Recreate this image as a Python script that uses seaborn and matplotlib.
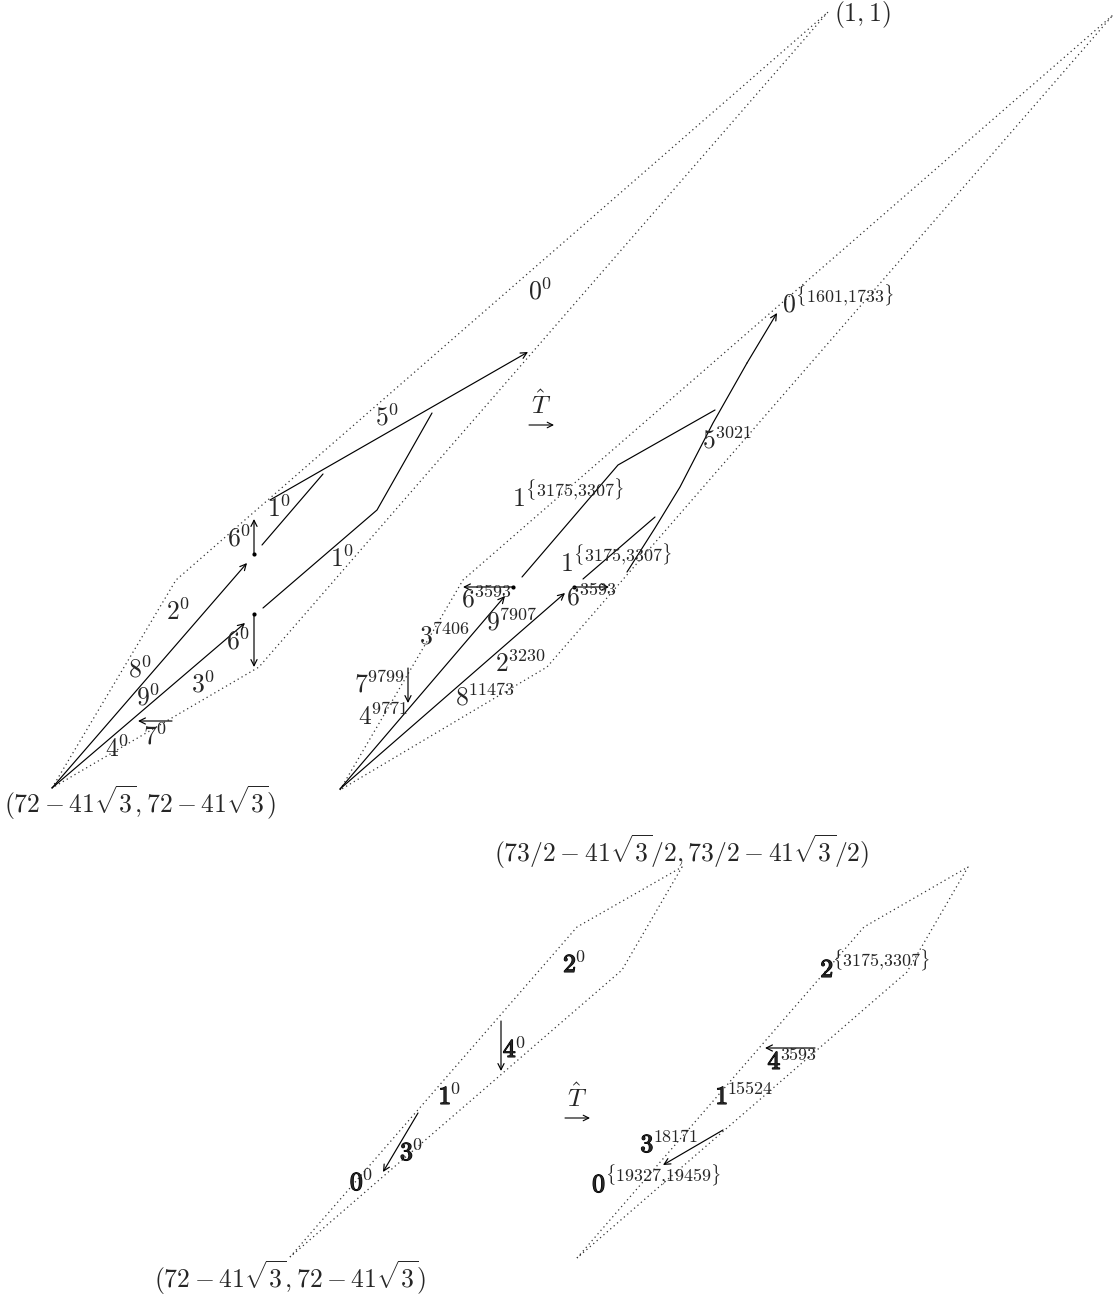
import seaborn as sns
import matplotlib.pyplot as plt
import matplotlib.patheffects as pe

# Drawing coordinates are in pixels of the original figure (y grows downwards)

# dotted outlines
top_left_x = [52, 176, 828, 259, 52]
top_left_y = [788, 580, 12, 667, 788]
top_right_x = [340, 463, 1113, 547, 340]
top_right_y = [790, 580, 15, 667, 790]
bot_left_x = [290, 577, 682, 622, 290]
bot_left_y = [1257, 927, 867, 970, 1257]
bot_right_x = [577, 864, 968, 907, 577]
bot_right_y = [1258, 927, 867, 972, 1258]

# solid paths without arrow heads
plain_paths = [
    [(262, 545), (323, 474)],
    [(263, 608), (377, 510), (432, 413)],
    [(522, 577), (618, 465), (715, 410)],
    [(583, 579), (655, 517)],
]

# paths ending in an arrow head
arrow_paths = [
    [(52, 788), (247, 563)],
    [(52, 788), (245, 623)],
    [(172, 721), (138, 721)],
    [(270, 500), (528, 352)],
    [(340, 789), (505, 596)],
    [(340, 789), (565, 593)],
    [(408, 668), (408, 703)],
    [(627, 572), (655, 528), (680, 487), (713, 423), (747, 363), (777, 313)],
    [(501, 1021), (501, 1071)],
    [(418, 1113), (383, 1172)],
    [(815, 1048), (765, 1048)],
    [(723, 1130), (663, 1165)],
]

# arrows with a dot at the start
dot_arrows = [
    [(254, 554), (254, 519)],
    [(254, 614), (254, 667)],
    [(513, 587), (463, 587)],
    [(574, 587), (609, 587)],
]

# labels: text, x, y
labels_top_left = [
    (r"$0^{0}$", 540, 292), (r"$5^{0}$", 387, 418), (r"$1^{0}$", 279, 510),
    (r"$6^{0}$", 239, 539), (r"$1^{0}$", 342, 560), (r"$2^{0}$", 178, 613),
    (r"$6^{0}$", 238, 642), (r"$8^{0}$", 140, 670), (r"$9^{0}$", 148, 698),
    (r"$3^{0}$", 203, 685), (r"$4^{0}$", 117, 750), (r"$7^{0}$", 155, 737),
]
labels_top_right = [
    (r"$0^{\{1601{,}1733\}}$", 838, 302), (r"$5^{3021}$", 727, 441),
    (r"$1^{\{3175{,}3307\}}$", 568, 497), (r"$1^{\{3175{,}3307\}}$", 616, 562),
    (r"$6^{3593}$", 487, 600), (r"$6^{3593}$", 592, 598),
    (r"$3^{7406}$", 445, 637), (r"$9^{7907}$", 512, 623),
    (r"$7^{9799}$", 380, 685), (r"$4^{9771}$", 383, 718),
    (r"$2^{3230}$", 521, 665), (r"$8^{11473}$", 485, 698),
]
# bold labels: bold digit, exponent, x, y
labels_bottom = [
    ("2", "0", 575, 965), ("4", "0", 515, 1050), ("1", "0", 450, 1097),
    ("3", "0", 412, 1153), ("0", "0", 362, 1183),
    ("2", r"\{3175{,}3307\}", 876, 970), ("4", "3593", 793, 1062),
    ("1", "15524", 745, 1097), ("3", "18171", 670, 1145),
    ("0", r"\{19327{,}19459\}", 657, 1185),
]
corner_labels = [
    (r"$(1,1)$", 862, 14),
    (r"$(72-41\sqrt{3},72-41\sqrt{3})$", 140, 803),
    (r"$(73/2-41\sqrt{3}/2,73/2-41\sqrt{3}/2)$", 682, 852),
    (r"$(72-41\sqrt{3},72-41\sqrt{3})$", 290, 1278),
]
t_hat_pos = [(541, 414), (577, 1107)]

sns.set_theme(style="white")
plt.rcParams['mathtext.fontset'] = 'cm'
plt.rcParams['font.family'] = ['DejaVu Sans']
fs = 18.5

fig = plt.figure(figsize=(11.15, 12.95), dpi=100)
ax = fig.add_axes([0, 0, 1, 1])
ax.set_xlim(0, 1115)
ax.set_ylim(1295, 0)
ax.axis('off')

dotted = dict(color='#333333', lw=0.9, linestyle=(0, (1, 2.6)))
for xs, ys in [(top_left_x, top_left_y), (top_right_x, top_right_y),
               (bot_left_x, bot_left_y), (bot_right_x, bot_right_y)]:
    sns.lineplot(x=xs, y=ys, sort=False, estimator=None, ax=ax, **dotted)

solid = dict(color='black', lw=0.85)
for path in plain_paths:
    sns.lineplot(x=[p[0] for p in path], y=[p[1] for p in path],
                 sort=False, estimator=None, ax=ax, **solid)

head = dict(arrowstyle='->', lw=0.85, color='black', shrinkA=0, shrinkB=0,
            mutation_scale=11)
for path in arrow_paths:
    if len(path) > 2:
        sns.lineplot(x=[p[0] for p in path[:-1]], y=[p[1] for p in path[:-1]],
                     sort=False, estimator=None, ax=ax, **solid)
    ax.annotate("", xy=path[-1], xytext=path[-2], arrowprops=head)

for path in dot_arrows:
    ax.annotate("", xy=path[-1], xytext=path[0], arrowprops=head)
    sns.scatterplot(x=[path[0][0]], y=[path[0][1]], s=9, color='black',
                    ax=ax, linewidth=0)

for txt, x, y in labels_top_left + labels_top_right + corner_labels:
    ax.text(x, y, txt, fontsize=fs, ha='center', va='center')

# T-hat over a short arrow
for x, y in t_hat_pos:
    ax.text(x, y, r"$\hat{T}$", fontsize=fs, ha='center', va='baseline')
    ax.annotate("", xy=(x + 13, y + 11), xytext=(x - 12, y + 11),
                arrowprops=dict(arrowstyle='->', lw=0.8, color='black',
                                shrinkA=0, shrinkB=0, mutation_scale=10))

# bold digit + normal exponent, placed side by side (1 data unit = 1 px)
renderer = fig.canvas.get_renderer()
for digit, sup, x, y in labels_bottom:
    tb = ax.text(0, 0, r"$\mathbf{%s}$" % digit, fontsize=fs, ha='left',
                 va='baseline',
                 path_effects=[pe.withStroke(linewidth=0.9, foreground='black')])
    ts = ax.text(0, 0, r"$%s$" % sup, fontsize=fs * 0.7, ha='left',
                 va='baseline')
    wb = tb.get_window_extent(renderer).width
    ws = ts.get_window_extent(renderer).width
    x0 = x - (wb + ws) / 2
    yb = y + 7
    tb.set_position((x0, yb))
    ts.set_position((x0 + wb - 1.5, yb - 9.5))

fig.savefig('out.png', dpi=100, facecolor='white')
